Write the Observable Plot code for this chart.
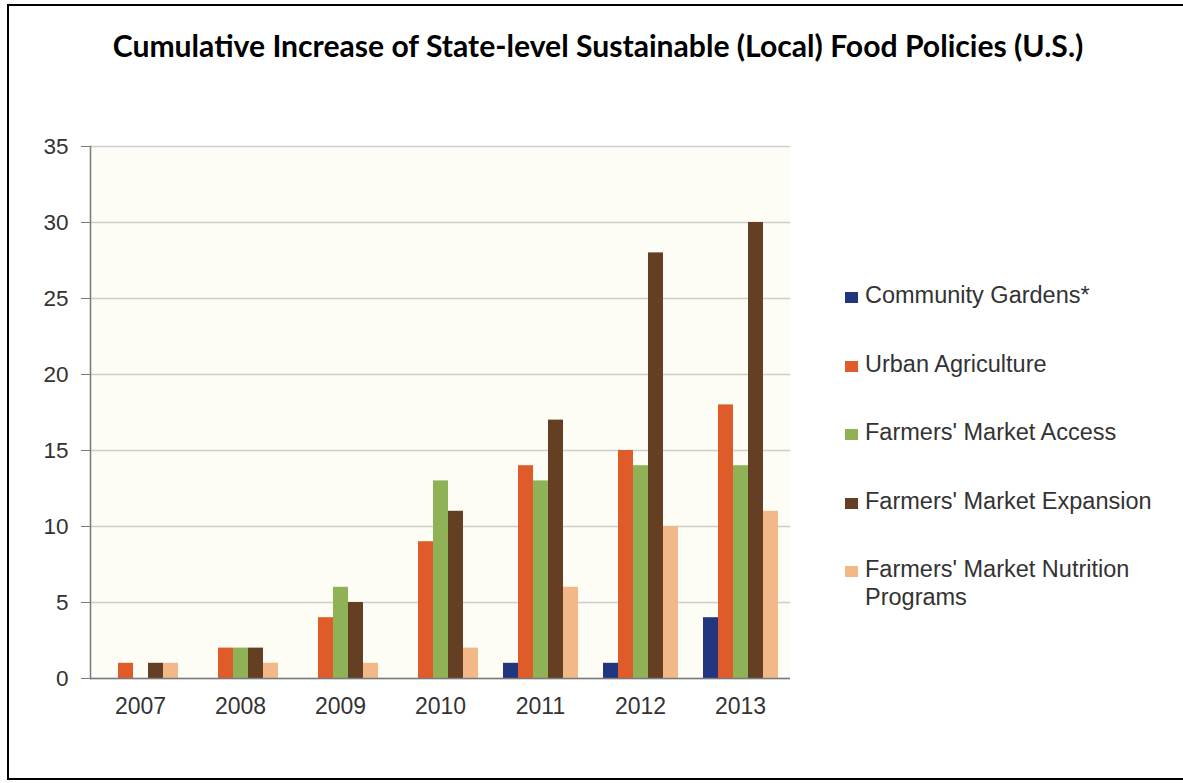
<!DOCTYPE html>
<html>
<head>
<meta charset="utf-8">
<script src="https://cdn.jsdelivr.net/npm/d3@7"></script>
<script src="https://cdn.jsdelivr.net/npm/@observablehq/plot@0.6"></script>
<style>
  html, body { margin: 0; padding: 0; background: #fff; }
  #wrap { position: relative; width: 1183px; height: 783px; overflow: hidden; background: #fff; }
  #chart { position: absolute; left: 0; top: 0; }
  #border { position: absolute; left: 7px; top: 4px; width: 1200px; height: 776px; border: 2px solid #000; box-sizing: border-box; pointer-events: none; }
  #title { position: absolute; left: 8px; width: 1180px; top: 27px; text-align: center; font-family: Lato, "Open Sans", sans-serif; font-weight: bold; font-size: 25px; line-height: 36px; color: #000; white-space: nowrap; }
  #legend { position: absolute; left: 845px; top: 281px; font-family: "Liberation Sans", Arial, sans-serif; font-size: 23.5px; line-height: 28px; color: #333; }
  .item { display: flex; align-items: flex-start; margin-bottom: 40.5px; }
  .sw { width: 13px; height: 11px; margin-top: 11px; margin-right: 7px; flex: none; }
  .lab { max-width: 310px; }
</style>
</head>
<body>
<div id="wrap">
  <div id="chart"></div>
  <div id="title">Cumulative Increase of State-level Sustainable (Local) Food Policies (U.S.)</div>
  <div id="legend"></div>
  <div id="border"></div>
</div>
<script>
const years = ["2007", "2008", "2009", "2010", "2011", "2012", "2013"];
const seriesNames = [
  "Community Gardens*",
  "Urban Agriculture",
  "Farmers' Market Access",
  "Farmers' Market Expansion",
  "Farmers' Market Nutrition Programs"
];
const communityGardens = [0, 0, 0, 0, 1, 1, 4];
const urbanAgriculture = [1, 2, 4, 9, 14, 15, 18];
const marketAccess = [0, 2, 6, 13, 13, 14, 14];
const marketExpansion = [1, 2, 5, 11, 17, 28, 30];
const marketNutrition = [1, 1, 1, 2, 6, 10, 11];
const seriesColors = ["#22367f", "#e05b2a", "#8fb256", "#643f23", "#f2b887"];
const yTicks = [0, 5, 10, 15, 20, 25, 30, 35];

const seriesValues = [communityGardens, urbanAgriculture, marketAccess, marketExpansion, marketNutrition];
const data = [];
years.forEach((yr, i) => {
  seriesNames.forEach((s, j) => {
    data.push({year: yr, series: s, value: seriesValues[j][i]});
  });
});

const chart = Plot.plot({
  width: 800,
  height: 728,
  marginLeft: 89,
  marginRight: 10,
  marginTop: 146,
  marginBottom: 50,
  style: {fontFamily: "'Liberation Sans', Arial, sans-serif", fontSize: "23px", color: "#333", background: "transparent"},
  fx: {domain: years, padding: 0, label: null},
  x: {domain: seriesNames, paddingInner: 0, paddingOuter: 0.705, axis: null},
  y: {domain: [0, 35], label: null},
  color: {domain: seriesNames, range: seriesColors},
  marks: [
    Plot.frame({fill: "#fdfdf6", stroke: null}),
    Plot.gridY(yTicks, {stroke: "#cdcdcd", strokeOpacity: 1, strokeWidth: 1.5}),
    Plot.barY(data, {fx: "year", x: "series", y: "value", fill: "series"}),
    Plot.ruleY([0], {stroke: "#7a7a7a", strokeWidth: 1.5}),
    Plot.frame({anchor: "left", stroke: "#7a7a7a", strokeWidth: 1.5, facetAnchor: "left"}),
    Plot.axisY(yTicks, {tickSize: 9, tickPadding: 13, stroke: "#7a7a7a", label: null, fontSize: 22.5}),
    Plot.axisFx({anchor: "bottom", tickSize: 0, tickPadding: 19, label: null, fontSize: 23})
  ]
});
document.getElementById("chart").appendChild(chart);

const legend = document.getElementById("legend");
seriesNames.forEach((s, i) => {
  const item = document.createElement("div");
  item.className = "item";
  const sw = document.createElement("div");
  sw.className = "sw";
  sw.style.background = seriesColors[i];
  const lab = document.createElement("div");
  lab.className = "lab";
  lab.textContent = s;
  item.appendChild(sw);
  item.appendChild(lab);
  legend.appendChild(item);
});

// fit title width to the reference's span
const title = document.getElementById("title");
const span = document.createElement("span");
span.textContent = title.textContent;
title.textContent = "";
title.appendChild(span);
const w = span.getBoundingClientRect().width;
title.style.fontSize = (25 * 971 / w) + "px";
</script>
</body>
</html>
